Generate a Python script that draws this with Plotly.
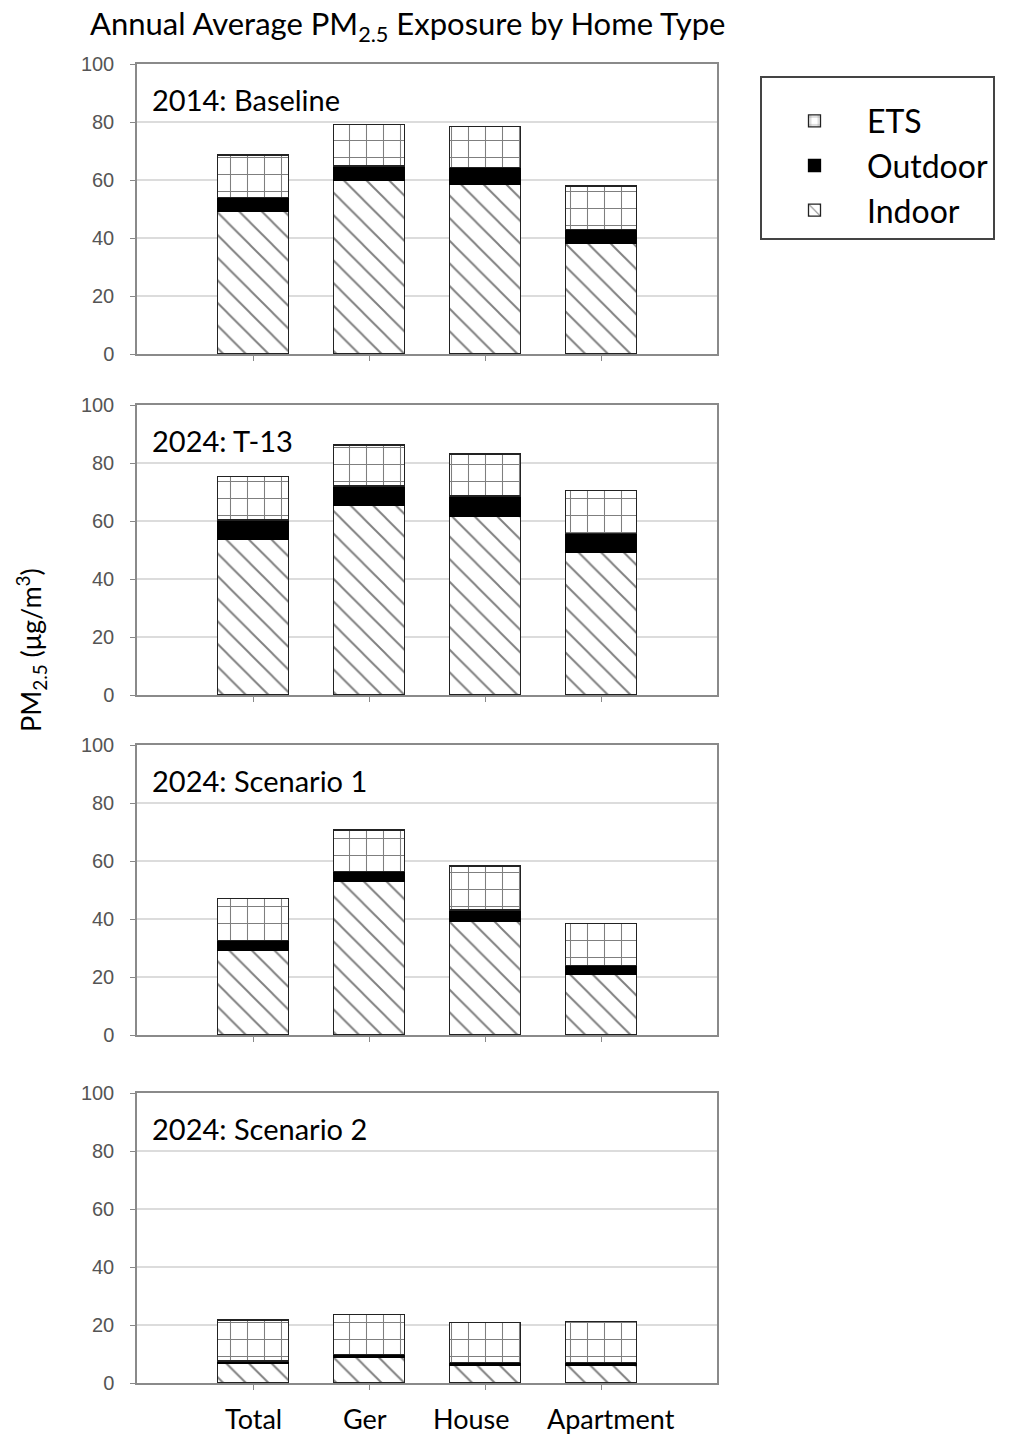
import plotly.graph_objects as go
from plotly.subplots import make_subplots

categories = ["Total", "Ger", "House", "Apartment"]
panel_titles = ["2014: Baseline", "2024: T-13", "2024: Scenario 1", "2024: Scenario 2"]

indoor_2014 = [49.1, 60.0, 58.6, 38.2]
outdoor_2014 = [4.9, 4.8, 5.7, 4.8]
ets_2014 = [14.6, 14.4, 14.1, 14.9]

indoor_t13 = [53.7, 65.5, 61.7, 49.1]
outdoor_t13 = [6.6, 6.6, 6.9, 6.6]
ets_t13 = [15.0, 14.1, 14.5, 14.7]

indoor_s1 = [29.3, 53.1, 39.3, 20.9]
outdoor_s1 = [3.2, 3.2, 3.8, 3.0]
ets_s1 = [14.5, 14.4, 15.2, 14.6]

indoor_s2 = [6.7, 8.7, 6.0, 6.0]
outdoor_s2 = [0.9, 1.2, 1.0, 1.0]
ets_s2 = [14.1, 13.8, 13.9, 14.1]

y_ticks = [0, 20, 40, 60, 80, 100]

panels = [
    (indoor_2014, outdoor_2014, ets_2014),
    (indoor_t13, outdoor_t13, ets_t13),
    (indoor_s1, outdoor_s1, ets_s1),
    (indoor_s2, outdoor_s2, ets_s2),
]

FONT = "Lato"
x_pos = list(range(len(categories)))

fig = make_subplots(rows=4, cols=1)

for i, (ind, out, ets) in enumerate(panels):
    row = i + 1
    show = (i == 0)
    fig.add_trace(go.Bar(
        x=x_pos, y=ind, name="Indoor", legendgroup="Indoor", showlegend=show,
        width=0.61,
        marker=dict(color="white",
                    line=dict(color="#222222", width=1.3),
                    pattern=dict(shape="\\", fgcolor="black", bgcolor="white",
                                 size=16, solidity=0.12)),
    ), row=row, col=1)
    fig.add_trace(go.Bar(
        x=x_pos, y=out, name="Outdoor", legendgroup="Outdoor", showlegend=show,
        width=0.61,
        marker=dict(color="black", line=dict(color="black", width=1.3)),
    ), row=row, col=1)
    fig.add_trace(go.Bar(
        x=x_pos, y=ets, name="ETS", legendgroup="ETS", showlegend=show,
        width=0.61,
        marker=dict(color="white",
                    line=dict(color="#222222", width=1.3),
                    pattern=dict(shape="+", fgcolor="black", bgcolor="white",
                                 size=17, solidity=0.12)),
    ), row=row, col=1)

# the page puts an 8px body margin around the figure
OFF = 8
W = 1034 - 2 * OFF
H = 1443 - 2 * OFF
plot_left, plot_right = 137, 717          # page pixels
top_px, bottom_px = 64, 1383              # page pixels
span = bottom_px - top_px
pw = plot_right - plot_left
panel_px = [(64, 354), (405, 695), (745, 1035), (1093, 1383)]

layout_updates = {}
for i, (t, b) in enumerate(panel_px):
    ax = "" if i == 0 else str(i + 1)
    layout_updates["yaxis" + ax] = dict(
        domain=[(bottom_px - b) / span, (bottom_px - t) / span],
        range=[0, 100], tickvals=y_ticks, ticks="outside", ticklen=5,
        tickcolor="#888888", showgrid=True, gridcolor="#dcdcdc", gridwidth=1.5,
        showline=True, linecolor="#8a8a8a", linewidth=1.5, mirror=True,
        zeroline=False, ticklabelstandoff=12,
        tickfont=dict(family="Liberation Sans", size=20, color="#555555"),
    )
    layout_updates["xaxis" + ax] = dict(
        range=[-1, 4], tickvals=x_pos, showticklabels=False,
        ticks="outside", ticklen=5, tickcolor="#888888",
        showgrid=False, zeroline=False,
        showline=True, linecolor="#8a8a8a", linewidth=1.5, mirror=True,
    )
fig.update_layout(**layout_updates)

for i, title in enumerate(panel_titles):
    ax = "" if i == 0 else str(i + 1)
    fig.add_annotation(
        text=title, xref=f"x{ax} domain", yref=f"y{ax} domain",
        x=0.022, y=0.876, xanchor="left", yanchor="middle", showarrow=False,
        font=dict(family=FONT, size=29, color="black"),
    )

# category labels under the bottom panel (nudged apart as in the original)
label_shift = [0, -4, -14, 10]
for xi, (cat, sh) in enumerate(zip(categories, label_shift)):
    fig.add_annotation(
        text=cat, x=x_pos[xi], xref="x4", y=-35 / 290, yref="y4 domain",
        xanchor="center", yanchor="middle", xshift=sh, showarrow=False,
        font=dict(family=FONT, size=27, color="black"),
    )

fig.add_annotation(
    text="PM<sub>2.5</sub> (μg/m<sup>3</sup>)", xref="paper", yref="paper",
    x=(31 - plot_left) / pw, y=(bottom_px - 650) / span, xanchor="center", yanchor="middle",
    textangle=-90, showarrow=False,
    font=dict(family=FONT, size=27, color="black"),
)

# chart title
fig.add_annotation(
    text="Annual Average PM<sub>2.5</sub> Exposure by Home Type",
    xref="paper", yref="paper",
    x=(88 - plot_left) / pw, y=1 + (top_px - 26) / span,
    xanchor="left", yanchor="middle", showarrow=False,
    font=dict(family=FONT, size=31, color="black"),
)

fig.update_layout(
    width=W, height=H,
    margin=dict(l=plot_left - OFF, r=W - (plot_right - OFF), t=top_px - OFF,
                b=H - (bottom_px - OFF)),
    barmode="stack", bargap=0.39,
    plot_bgcolor="white", paper_bgcolor="white",
    legend=dict(x=(760 - plot_left) / pw, y=(bottom_px - 76) / span,
                xanchor="left", yanchor="top", traceorder="reversed",
                bgcolor="white", bordercolor="#444444", borderwidth=2,
                tracegroupgap=10,
                title=dict(text=" ", font=dict(size=12)),
                font=dict(family=FONT, size=32, color="black"),
                itemwidth=95),
)

fig.write_html("out.html")
